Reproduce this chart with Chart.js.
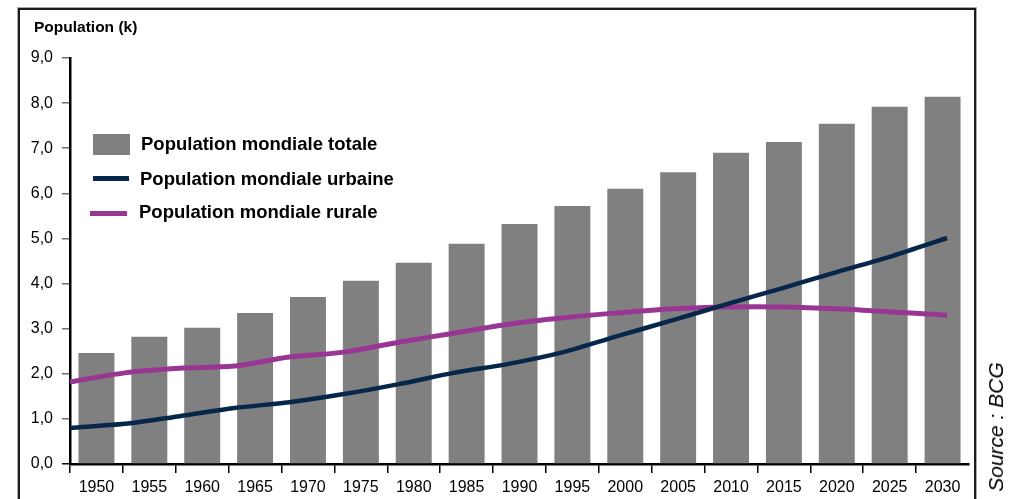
<!DOCTYPE html>
<html>
<head>
<meta charset="utf-8">
<script src="https://cdn.jsdelivr.net/npm/chart.js@4.4.1/dist/chart.umd.min.js"></script>
<style>
  html, body { margin: 0; padding: 0; background: #fff; }
  #wrap { position: relative; width: 1013px; height: 499px; overflow: hidden; font-family: "Liberation Sans", Arial, sans-serif; }
  #frame { position: absolute; left: 18px; top: 8px; width: 958px; height: 600px; box-sizing: border-box; border: 2px solid #1c1c1c; box-shadow: 0 0 0 1px #aaa; }
  #c { position: absolute; left: 0; top: 0; }
  #title { position: absolute; left: 34px; top: 18px; font-weight: bold; font-size: 15.5px; line-height: 18px; color: #000; white-space: nowrap; }
  .leg { position: absolute; font-weight: bold; font-size: 18.5px; line-height: 22px; color: #000; white-space: nowrap; }
  .sw { position: absolute; }
  #source { position: absolute; left: 996px; top: 427px; font-style: italic; font-size: 21px; line-height: 24px; white-space: nowrap; transform: translate(-50%, -50%) rotate(-90deg); color: #000; }
</style>
</head>
<body>
<div id="wrap">
  <div id="frame"></div>
  <canvas id="c" width="1013" height="499"></canvas>
  <div id="title"></div>
  <div id="legend"></div>
  <div id="source"></div>
</div>
<script>
// ---- Data ----
const years = ['1950','1955','1960','1965','1970','1975','1980','1985','1990','1995','2000','2005','2010','2015','2020','2025','2030'];
const totalPop = [2.46, 2.82, 3.02, 3.35, 3.70, 4.06, 4.46, 4.88, 5.32, 5.72, 6.10, 6.47, 6.90, 7.14, 7.54, 7.92, 8.14];
const urbanPop = [0.80, 0.89, 1.06, 1.24, 1.37, 1.55, 1.77, 2.02, 2.22, 2.48, 2.84, 3.19, 3.55, 3.90, 4.26, 4.61, 5.01];
const ruralPop = [1.82, 2.02, 2.12, 2.17, 2.37, 2.48, 2.70, 2.90, 3.10, 3.24, 3.35, 3.44, 3.48, 3.48, 3.44, 3.37, 3.30];
const yTicks = [0, 1, 2, 3, 4, 5, 6, 7, 8, 9];
const seriesLabels = ['Population mondiale totale', 'Population mondiale urbaine', 'Population mondiale rurale'];
const titleText = 'Population (k)';
const sourceText = 'Source : BCG';

// ---- Styles ----
const barColor = '#808080';
const urbanColor = '#062749';
const ruralColor = '#993694';

document.getElementById('title').textContent = titleText;
document.getElementById('source').textContent = sourceText;

// HTML legend
const legend = document.getElementById('legend');
const legendSpec = [
  { label: seriesLabels[0], sw: { left: 93, top: 134, w: 37, h: 21, c: barColor }, tx: { left: 141, top: 133 } },
  { label: seriesLabels[1], sw: { left: 93, top: 176, w: 36, h: 5, c: urbanColor }, tx: { left: 140, top: 168 } },
  { label: seriesLabels[2], sw: { left: 90, top: 211, w: 37, h: 5, c: ruralColor }, tx: { left: 139, top: 201 } }
];
legendSpec.forEach(s => {
  const sw = document.createElement('div');
  sw.className = 'sw';
  sw.style.left = s.sw.left + 'px'; sw.style.top = s.sw.top + 'px';
  sw.style.width = s.sw.w + 'px'; sw.style.height = s.sw.h + 'px';
  sw.style.background = s.sw.c;
  legend.appendChild(sw);
  const t = document.createElement('div');
  t.className = 'leg';
  t.style.left = s.tx.left + 'px'; t.style.top = s.tx.top + 'px';
  t.textContent = s.label;
  legend.appendChild(t);
});

const fontFam = '"Liberation Sans", Arial, sans-serif';
const yearNums = years.map(Number);

new Chart(document.getElementById('c'), {
  type: 'bar',
  data: {
    labels: years,
    datasets: [
      {
        type: 'line', label: seriesLabels[1], xAxisID: 'xl', order: 0,
        data: yearNums.map((y, i) => ({ x: y, y: urbanPop[i] })),
        borderColor: urbanColor, borderWidth: 4.5, pointRadius: 0, tension: 0.3, fill: false
      },
      {
        type: 'line', label: seriesLabels[2], xAxisID: 'xl', order: 0,
        data: yearNums.map((y, i) => ({ x: y, y: ruralPop[i] })),
        borderColor: ruralColor, borderWidth: 5, pointRadius: 0, tension: 0.3, fill: false
      },
      {
        type: 'bar', label: seriesLabels[0], xAxisID: 'x', order: 1, grouped: false,
        data: totalPop, backgroundColor: barColor, borderWidth: 0,
        categoryPercentage: 1.0, barPercentage: 0.68
      }
    ]
  },
  options: {
    responsive: false,
    animation: false,
    events: [],
    layout: { padding: { left: 0, top: 58, right: 44, bottom: 0 } },
    plugins: { legend: { display: false }, tooltip: { enabled: false }, title: { display: false } },
    scales: {
      x: {
        type: 'category', position: 'bottom', offset: true,
        afterFit: s => { s.height = 35; },
        grid: {
          offset: true, drawOnChartArea: false, drawTicks: true, tickLength: 9,
          color: ctx => (ctx.type === 'tick' ? '#000' : 'rgba(0,0,0,0)'),
          lineWidth: 1.5
        },
        border: { display: true, color: '#000', width: 2.5 },
        ticks: { color: '#000', font: { family: fontFam, size: 16 }, padding: 5, maxRotation: 0, autoSkip: false }
      },
      xl: {
        type: 'linear', position: 'bottom', display: false, min: 1950, max: 2032, offset: false
      },
      y: {
        type: 'linear', position: 'left', min: yTicks[0], max: yTicks[yTicks.length - 1],
        afterFit: s => { s.width = 70; },
        afterBuildTicks: s => { s.ticks = yTicks.map(v => ({ value: v })); },
        grid: {
          drawOnChartArea: false, drawTicks: true, tickLength: 8,
          color: ctx => (ctx.tick && ctx.tick.value === 0 ? '#000' : '#707070'), lineWidth: 1.5
        },
        border: { display: true, color: '#000', width: 2.5 },
        ticks: {
          color: '#000', font: { family: fontFam, size: 16 }, padding: 9,
          callback: v => Number(v).toFixed(1).replace('.', ',')
        }
      }
    }
  }
});
</script>
</body>
</html>
